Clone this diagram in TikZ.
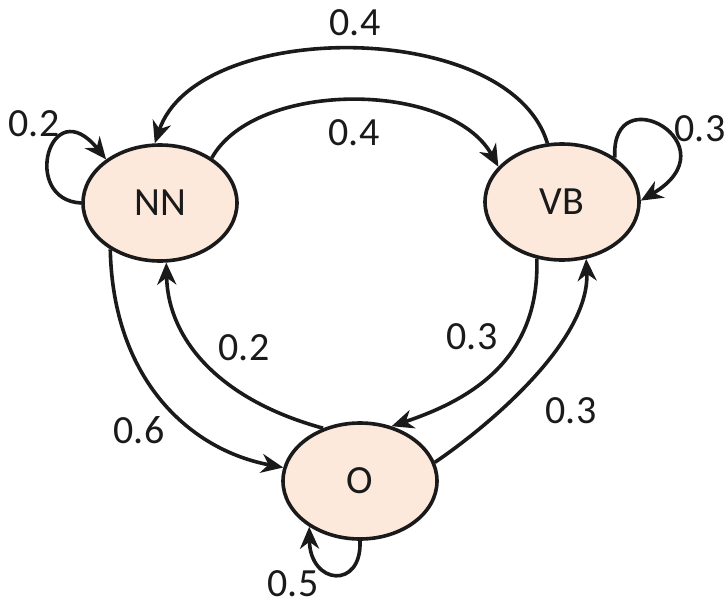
\documentclass[tikz,border=0pt]{standalone}
\usepackage{fontspec}
\setmainfont{Carlito}
\usetikzlibrary{shapes.geometric,arrows.meta}
\definecolor{statefill}{HTML}{FCE9DB}
\definecolor{ink}{HTML}{1A1A1A}
\begin{document}
\begin{tikzpicture}[x=1pt,y=-1pt,
  state/.style={ellipse,draw=ink,line width=3.6pt,fill=statefill,
    minimum width=154pt,minimum height=116pt,inner sep=0pt,
    font=\fontsize{40}{44}\selectfont,text=ink},
  prob/.style={font=\fontsize{40}{44}\selectfont,text=ink,inner sep=0pt},
  trans/.style={draw=ink,line width=3.6pt,
    -{Stealth[length=22pt,width=19pt,inset=7pt]}}]
\useasboundingbox (0,0) rectangle (728,608);

% states
\node[state] (NN) at (160,203) {NN};
\node[state] (VB) at (562,202) {VB};
\node[state] (O)  at (360,481) {O};

% transitions
\draw[trans] (VB.104) .. controls (510,18) and (197,18) .. (NN.95);
\draw[trans] (NN.41) .. controls (255,80) and (450,80) .. (VB.151);
\draw[trans] (NN.180) .. controls (20,200) and (50,90) .. (NN.141);
\draw[trans] (VB.40) .. controls (610,75) and (735,145) .. (VB.1);
\draw[trans] (O.270) .. controls (362,590) and (310,585) .. (O.222);
\draw[trans] (NN.223) .. controls (113,380) and (190,450) .. (O.170);
\draw[trans] (O.125) .. controls (220,400) and (168,340) .. (NN.276);
\draw[trans] (VB.246) .. controls (540,360) and (470,400) .. (O.60);
\draw[trans] (O.14) .. controls (490,425) and (590,340) .. (VB.293);

% transition probabilities
\node[prob] (pVBNN) at (355,23)  {0.4};
\node[prob] (pNNVB) at (354,133) {0.4};
\node[prob] (pNNNN) at (34,124)  {0.2};
\node[prob] (pVBVB) at (700,129) {0.3};
\node[prob] (pONN)  at (244,348) {0.2};
\node[prob] (pNNO)  at (139,430) {0.6};
\node[prob] (pVBO)  at (472,337) {0.3};
\node[prob] (pOVB)  at (571,411) {0.3};
\node[prob] (pOO)   at (293,584) {0.5};
\end{tikzpicture}
\end{document}
